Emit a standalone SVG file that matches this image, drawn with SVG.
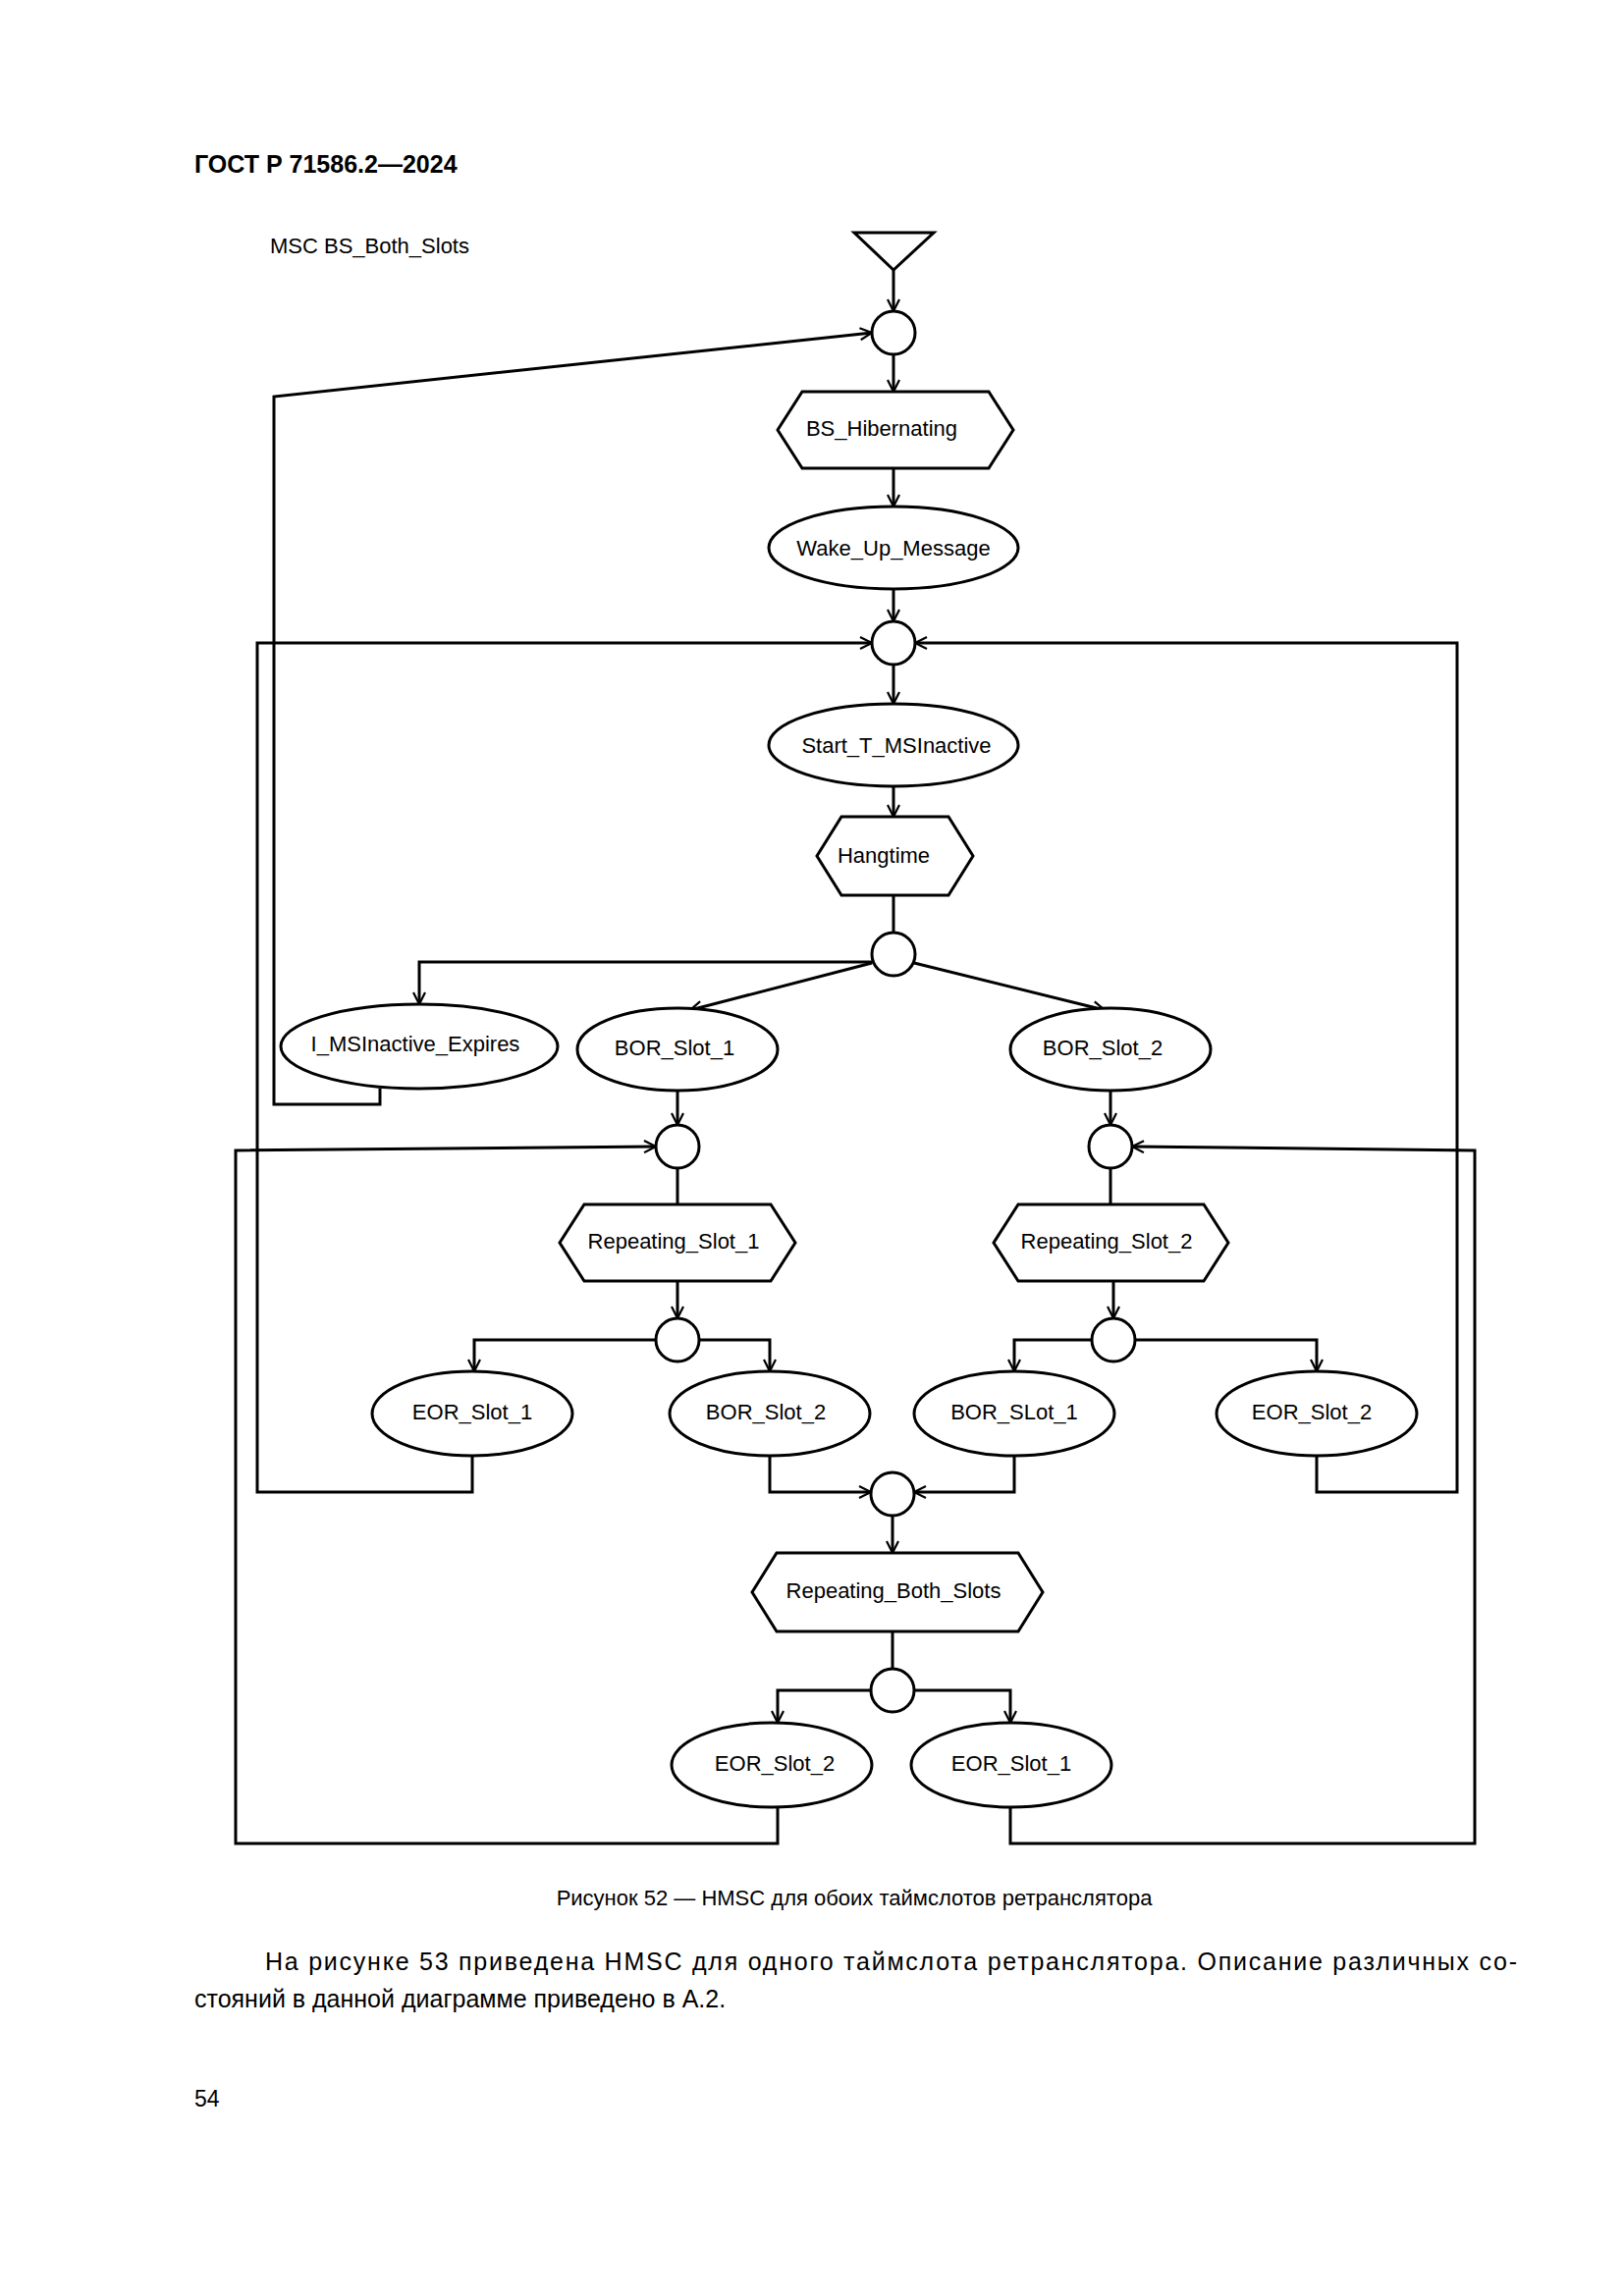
<svg xmlns="http://www.w3.org/2000/svg" width="1654" height="2339" viewBox="0 0 1654 2339">
<defs>
<marker id="a" viewBox="0 0 14 14" refX="13" refY="7" markerWidth="14" markerHeight="14" markerUnits="userSpaceOnUse" orient="auto"><path d="M1,1 L13,7 L1,13" fill="none" stroke="#000" stroke-width="2.2"/></marker>
</defs>
<style>
.s{fill:#fff;stroke:#000;stroke-width:3}
.t{font-family:"Liberation Sans",Arial,sans-serif;font-size:22px;fill:#000;text-anchor:middle}
.c path{fill:none;stroke:#000;stroke-width:3}
.m{marker-end:url(#a)}
</style>
<rect width="1654" height="2339" fill="#fff"/>
<text x="198" y="176" font-family="Liberation Sans,Arial,sans-serif" font-weight="bold" font-size="25">ГОСТ Р 71586.2—2024</text>
<text x="275" y="258" font-family="Liberation Sans,Arial,sans-serif" font-size="22">MSC BS_Both_Slots</text>
<g class="c">
<path class="m" d="M910,275 L910,317"/>
<path class="m" d="M387,1109 L387,1125 L279,1125 L279,404 L888,339"/>
<path class="m" d="M910,361 L910,399"/>
<path class="m" d="M910,477 L910,516"/>
<path class="m" d="M910,600 L910,633"/>
<path class="m" d="M481,1483 L481,1520 L262,1520 L262,655 L888,655"/>
<path class="m" d="M1341,1483 L1341,1520 L1484,1520 L1484,655 L932,655"/>
<path class="m" d="M910,677 L910,717"/>
<path class="m" d="M910,801 L910,832"/>
<path d="M910,912 L910,950"/>
<path class="m" d="M890,980 L427,980 L427,1023"/>
<path class="m" d="M888,981 L703,1029"/>
<path class="m" d="M931,981 L1125,1029"/>
<path class="m" d="M690,1111 L690,1146"/>
<path class="m" d="M1131,1111 L1131,1146"/>
<path d="M690,1190 L690,1227"/>
<path d="M1131,1190 L1131,1227"/>
<path class="m" d="M690,1305 L690,1343"/>
<path class="m" d="M1134,1305 L1134,1343"/>
<path class="m" d="M792,1841 L792,1878 L240,1878 L240,1172 L668,1168"/>
<path class="m" d="M1029,1841 L1029,1878 L1502,1878 L1502,1172 L1153,1168"/>
<path class="m" d="M668,1365 L483,1365 L483,1397"/>
<path class="m" d="M712,1365 L784,1365 L784,1397"/>
<path class="m" d="M1112,1365 L1033,1365 L1033,1397"/>
<path class="m" d="M1156,1365 L1341,1365 L1341,1397"/>
<path class="m" d="M784,1483 L784,1520 L887,1520"/>
<path class="m" d="M1033,1483 L1033,1520 L931,1520"/>
<path class="m" d="M909,1544 L909,1582"/>
<path d="M909,1662 L909,1700"/>
<path class="m" d="M887,1722 L792,1722 L792,1755"/>
<path class="m" d="M931,1722 L1029,1722 L1029,1755"/>
</g>
<g id="start"><path class="s" d="M870,237 L951,237 L910,275 Z"/></g>
<g id="c1"><circle class="s" cx="910" cy="339" r="22"/></g>
<g id="hib"><path class="s" d="M817,399 L1007,399 L1032,438 L1007,477 L817,477 L792,438 Z"/><text class="t" x="898" y="444">BS_Hibernating</text></g>
<g id="wake"><ellipse class="s" cx="910" cy="558" rx="127" ry="42"/><text class="t" x="910" y="566">Wake_Up_Message</text></g>
<g id="c2"><circle class="s" cx="910" cy="655" r="22"/></g>
<g id="start_t"><ellipse class="s" cx="910" cy="759" rx="127" ry="42"/><text class="t" x="913" y="767">Start_T_MSInactive</text></g>
<g id="hang"><path class="s" d="M857,832 L966,832 L991,872 L966,912 L857,912 L832,872 Z"/><text class="t" x="900" y="879">Hangtime</text></g>
<g id="c3"><circle class="s" cx="910" cy="972" r="22"/></g>
<g id="imsi"><ellipse class="s" cx="427" cy="1066" rx="141" ry="43"/><text class="t" x="423" y="1071">I_MSInactive_Expires</text></g>
<g id="bor1"><ellipse class="s" cx="690" cy="1069" rx="102" ry="42"/><text class="t" x="687" y="1075">BOR_Slot_1</text></g>
<g id="bor2"><ellipse class="s" cx="1131" cy="1069" rx="102" ry="42"/><text class="t" x="1123" y="1075">BOR_Slot_2</text></g>
<g id="c4"><circle class="s" cx="690" cy="1168" r="22"/></g>
<g id="c5"><circle class="s" cx="1131" cy="1168" r="22"/></g>
<g id="rep1"><path class="s" d="M595,1227 L785,1227 L810,1266 L785,1305 L595,1305 L570,1266 Z"/><text class="t" x="686" y="1272">Repeating_Slot_1</text></g>
<g id="rep2"><path class="s" d="M1037,1227 L1226,1227 L1251,1266 L1226,1305 L1037,1305 L1012,1266 Z"/><text class="t" x="1127" y="1272">Repeating_Slot_2</text></g>
<g id="c6"><circle class="s" cx="690" cy="1365" r="22"/></g>
<g id="c7"><circle class="s" cx="1134" cy="1365" r="22"/></g>
<g id="eor1a"><ellipse class="s" cx="481" cy="1440" rx="102" ry="43"/><text class="t" x="481" y="1446">EOR_Slot_1</text></g>
<g id="bor2a"><ellipse class="s" cx="784" cy="1440" rx="102" ry="43"/><text class="t" x="780" y="1446">BOR_Slot_2</text></g>
<g id="bor1a"><ellipse class="s" cx="1033" cy="1440" rx="102" ry="43"/><text class="t" x="1033" y="1446">BOR_SLot_1</text></g>
<g id="eor2a"><ellipse class="s" cx="1341" cy="1440" rx="102" ry="43"/><text class="t" x="1336" y="1446">EOR_Slot_2</text></g>
<g id="c8"><circle class="s" cx="909" cy="1522" r="22"/></g>
<g id="repb"><path class="s" d="M791,1582 L1037,1582 L1062,1622 L1037,1662 L791,1662 L766,1622 Z"/><text class="t" x="910" y="1628">Repeating_Both_Slots</text></g>
<g id="c9"><circle class="s" cx="909" cy="1722" r="22"/></g>
<g id="eor2b"><ellipse class="s" cx="786" cy="1798" rx="102" ry="43"/><text class="t" x="789" y="1804">EOR_Slot_2</text></g>
<g id="eor1b"><ellipse class="s" cx="1030" cy="1798" rx="102" ry="43"/><text class="t" x="1030" y="1804">EOR_Slot_1</text></g>
<text class="t" x="870" y="1941">Рисунок 52 — HMSC для обоих таймслотов ретранслятора</text>
<text x="270" y="2007" font-family="Liberation Sans,Arial,sans-serif" font-size="25" textLength="1275" lengthAdjust="spacing">На рисунке 53 приведена HMSC для одного таймслота ретранслятора. Описание различных со-</text>
<text x="198" y="2045" font-family="Liberation Sans,Arial,sans-serif" font-size="25">стояний в данной диаграмме приведено в А.2.</text>
<text x="198" y="2146" font-family="Liberation Sans,Arial,sans-serif" font-size="23">54</text>
</svg>
